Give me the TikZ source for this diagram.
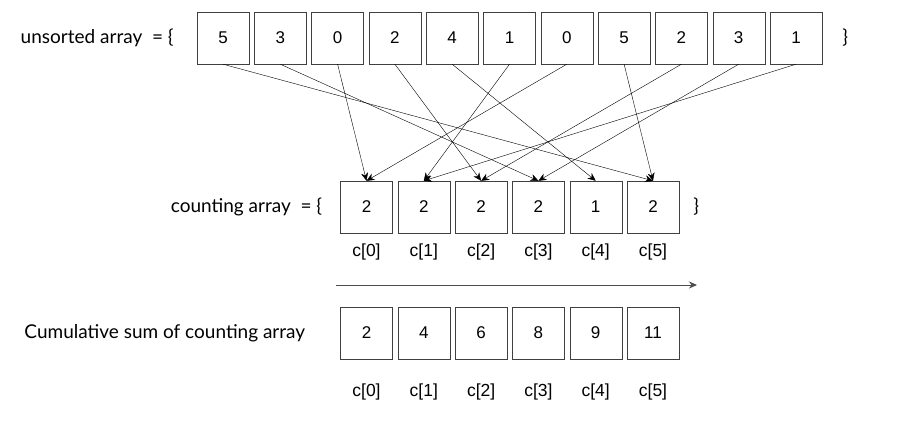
\documentclass[tikz,border=0pt]{standalone}
\usepackage{fontspec}
\setmainfont{Lato}
\newfontfamily\numfont{Liberation Sans}
\usetikzlibrary{arrows.meta, positioning}

\begin{document}
\begin{tikzpicture}[x=1pt, y=-1pt,
      cell/.style={rectangle, draw=black!75, minimum width=52pt,
        minimum height=52pt, inner sep=0pt, font=\numfont\fontsize{17}{19}\selectfont},
      idx/.style={font=\numfont\fontsize{17.5}{19}\selectfont, inner sep=0pt},
      lbl/.style={font=\fontsize{19}{21}\selectfont, inner sep=0pt},
      flecha/.style={-{Stealth[length=8pt, width=7pt]}, black}
    ]
      \useasboundingbox[fill=white] (0,0) rectangle (900,431);

      % unsorted array
      \foreach \v [count=\i from 0] in {5,3,0,2,4,1,0,5,2,3,1}
        \node[cell] (u\i) at ({223+57.3*\i},38) {\v};
      \node[lbl, left=23pt of u0] (ulbl) {unsorted array \ = \{};
      \node[lbl, right=20pt of u10] (uend) {\}};

      % counting array
      \foreach \v [count=\i from 0] in {2,2,2,2,1,2}
        \node[cell] (c\i) at ({366.5+57.3*\i},207) {\v};
      \node[lbl, left=18pt of c0] (clbl) {counting array \ = \{};
      \node[lbl, right=14pt of c5] (cend) {\}};
      \foreach \i in {0,...,5}
        \node[idx] (ci\i) at ({366.5+57.3*\i},252) {c[\i]};

      % u -> c
      \foreach \i/\v in {0/5,1/3,2/0,3/2,4/4,5/1,6/0,7/5,8/2,9/3,10/1}
        \draw[flecha] (u\i.south) -- (c\v.north);

      % arrow between
      \coordinate (a0) at (336,285);
      \coordinate (a1) at (697,285);
      \draw[flecha, black!70, line width=0.9pt] (a0) -- (a1);

      % cumulative sum
      \foreach \v [count=\i from 0] in {2,4,6,8,9,11}
        \node[cell] (s\i) at ({366.5+57.3*\i},333) {\v};
      \node[lbl, left=35pt of s0] (slbl) {Cumulative sum of counting array};
      \foreach \i in {0,...,5}
        \node[idx] (si\i) at ({366.5+57.3*\i},392) {c[\i]};
    \end{tikzpicture}
\end{document}
